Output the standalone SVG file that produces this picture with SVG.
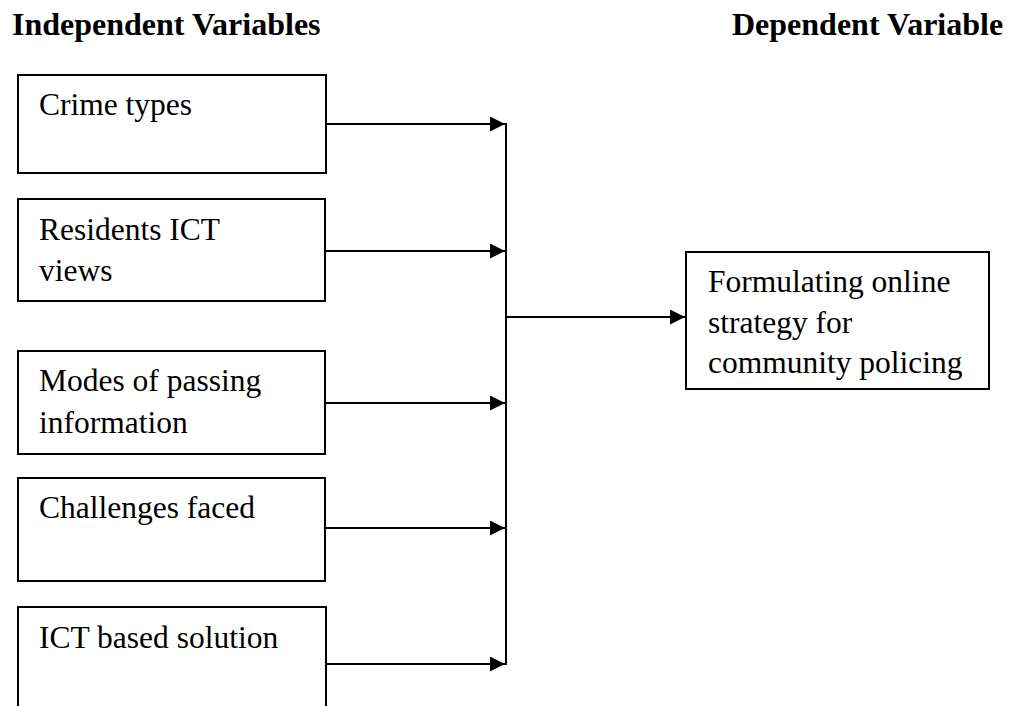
<svg xmlns="http://www.w3.org/2000/svg" width="1009" height="706" viewBox="0 0 1009 706">
  <style>
    .box { fill: #ffffff; stroke: #000000; stroke-width: 2; }
    .lbl { font-family: "Liberation Serif", "Times New Roman", serif; font-size: 31.5px; fill: #000000; }
    .head { font-family: "Liberation Serif", "Times New Roman", serif; font-size: 32px; font-weight: bold; fill: #000000; }
    .wire { fill: none; stroke: #000000; stroke-width: 2; }
  </style>
  <defs>
    <marker id="arrow" markerUnits="userSpaceOnUse" markerWidth="16" markerHeight="16" refX="15" refY="7.5" orient="auto">
      <path d="M0,0 L15,7.5 L0,15 z" fill="#000000"/>
    </marker>
  </defs>

  <rect width="1009" height="706" fill="#ffffff"/>

  <!-- column headings -->
  <text class="head" x="12" y="35">Independent Variables</text>
  <text class="head" x="732" y="35">Dependent Variable</text>

  <!-- independent variables -->
  <g id="crime-types">
    <rect class="box" x="18" y="75" width="308" height="98"/>
    <text class="lbl" x="39" y="115">Crime types</text>
  </g>
  <g id="residents-ict-views">
    <rect class="box" x="18" y="199" width="307" height="102"/>
    <text class="lbl" x="39" y="240">Residents ICT</text>
    <text class="lbl" x="39" y="281">views</text>
  </g>
  <g id="modes-of-passing-information">
    <rect class="box" x="18" y="351" width="307" height="103"/>
    <text class="lbl" x="39" y="391">Modes of passing</text>
    <text class="lbl" x="39" y="433">information</text>
  </g>
  <g id="challenges-faced">
    <rect class="box" x="18" y="478" width="307" height="103"/>
    <text class="lbl" x="39" y="518">Challenges faced</text>
  </g>
  <g id="ict-based-solution">
    <rect class="box" x="18" y="607" width="308" height="110"/>
    <text class="lbl" x="39" y="648">ICT based solution</text>
  </g>

  <!-- dependent variable -->
  <g id="online-strategy">
    <rect class="box" x="686" y="252" width="303" height="137"/>
    <text class="lbl" x="708" y="292">Formulating online</text>
    <text class="lbl" x="708" y="333">strategy for</text>
    <text class="lbl" x="708" y="373">community policing</text>
  </g>

  <!-- connectors -->
  <g id="connectors">
    <line class="wire" x1="326" y1="124" x2="505" y2="124" marker-end="url(#arrow)"/>
    <line class="wire" x1="325" y1="251" x2="505" y2="251" marker-end="url(#arrow)"/>
    <line class="wire" x1="325" y1="403" x2="505" y2="403" marker-end="url(#arrow)"/>
    <line class="wire" x1="325" y1="528" x2="505" y2="528" marker-end="url(#arrow)"/>
    <line class="wire" x1="326" y1="664" x2="505" y2="664" marker-end="url(#arrow)"/>
    <line class="wire" x1="506" y1="123" x2="506" y2="665"/>
    <line class="wire" x1="506" y1="317" x2="685" y2="317" marker-end="url(#arrow)"/>
  </g>
</svg>
